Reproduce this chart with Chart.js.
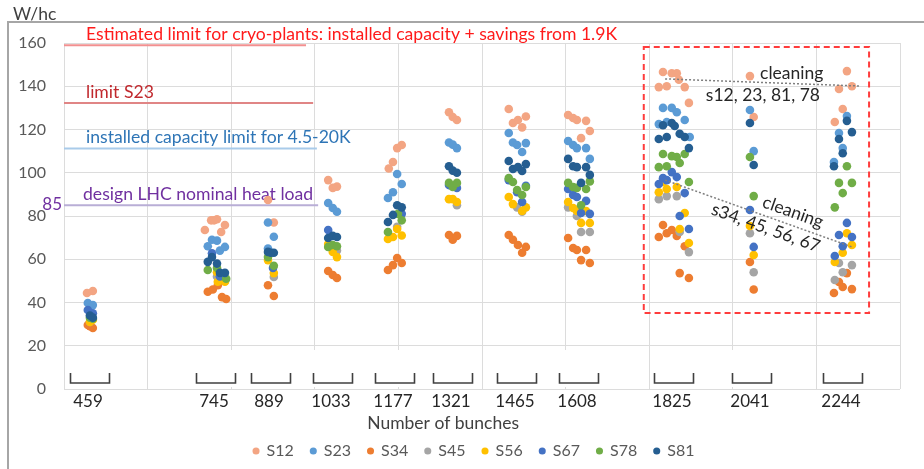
<!DOCTYPE html>
<html>
<head>
<meta charset="utf-8">
<script src="https://cdn.jsdelivr.net/npm/chart.js@4.4.1/dist/chart.umd.min.js"></script>
<style>
  html, body { margin: 0; padding: 0; background: #fff; }
  #wrap { position: relative; width: 924px; height: 469px; }
</style>
</head>
<body>
<div id="wrap"><canvas id="chart" width="924" height="469"></canvas></div>
<script>
// bunch counts shown under the brackets
var bunches = [459, 745, 889, 1033, 1177, 1321, 1465, 1608, 1825, 2041, 2244];
var seriesNames = ['S12', 'S23', 'S34', 'S45', 'S56', 'S67', 'S78', 'S81'];

// [x (bunches, spread inside a group), W/hc]
var s12 = [[455,44.4],[469,45.3],
  [737,73.5],[752,78],[759,78],[766,78.5],[776,72.6],[785,75.8],
  [888,87.4],[902,77],
  [1032,96.6],[1043,93],[1053,93.6],
  [1177,102],[1187,105],[1197,111.4],[1208,112.8],
  [1321,128],[1330,125.8],[1340,124.4],
  [1464,129.5],[1474,123],[1486,124.4],[1496,121],[1505,126],
  [1606,126.7],[1618,125.3],[1627,124.4],[1649,124],[1637,116],[1658,119.3],
  [1833,146.6],[1854,146],[1866,146],[1871,143],[1823,139.6],[1842,140],[1885,139.6],[1895,132.3],
  [2041,144.7],[2050,125.8],
  [2273,147],[2254,138.7],[2285,140],[2263,129.5],[2244,123.5]];
var s23 = [[457,39.8],[469,38.8],
  [744,66],[754,69],[766,68.6],[773,64],[785,65.7],
  [888,77],[902,70.4],[888,65],
  [1032,86],[1043,83.7],[1053,82],
  [1175,88.3],[1187,91],[1197,99.4],[1208,94.8],
  [1321,114],[1330,113],[1340,111.4],
  [1464,118.4],[1474,114],[1484,112.8],[1496,109.6],[1505,113.7],
  [1606,114.7],[1618,112.8],[1627,111.4],[1649,111.4],[1658,106.4],
  [1833,130],[1854,130],[1866,128],[1885,124.4],[1823,122.5],[1842,123.5],[1897,116.5],
  [2041,129],[2050,110],
  [2273,126.2],[2254,118.4],[2263,111.4],[2242,105]];
var s34 = [[457,29.6],[469,28.2],[462,29],
  [744,45],[756,46],[768,48],[778,42.5],[788,41.6],
  [888,48],[902,43],
  [1032,54.6],[1043,52.7],[1053,51.3],
  [1175,55],[1187,57.3],[1197,60.6],[1208,58.3],
  [1321,71.2],[1330,69],[1340,70.8],
  [1464,71.2],[1474,69],[1486,66.6],[1496,63],[1505,65.7],
  [1606,69.8],[1618,65.2],[1627,64.3],[1649,64.3],[1637,59.6],[1658,58.3],
  [1833,75.8],[1823,70.3],[1842,72],[1854,73.5],[1866,70.8],[1885,66],[1873,53.6],[1895,51.3],
  [2041,58.7],[2050,46],
  [2273,53.6],[2254,49.5],[2263,47.2],[2285,46.2],[2242,44.4]];
var s45 = [[462,31],
  [766,52],[785,50],
  [902,51.8],
  [1053,64],
  [1197,75],
  [1340,85],
  [1484,84],[1496,82],
  [1606,84],[1627,80],[1637,72.6],[1658,72.6],
  [1823,87.8],[1842,89.2],[1866,89.2],[1873,72.6],[1895,63.3],
  [2041,72],[2050,54],
  [2254,58.3],[2285,57.3],[2263,54],[2244,50.4]];
var s56 = [[462,31],[469,32],
  [768,49.6],[785,49.6],[766,54],
  [888,59.6],[902,53.6],
  [1032,67],[1043,63.4],[1053,61],
  [1175,69.4],[1187,70.3],[1197,74],[1208,71],
  [1321,87.8],[1330,87.8],[1340,86.5],
  [1464,88.8],[1474,85.5],[1496,82.3],[1505,84],
  [1606,86.5],[1618,83.7],[1627,82.3],[1649,82.3],[1637,76.8],[1658,76.8],
  [1833,95.7],[1823,91],[1842,92.5],[1866,93.4],[1885,81.4],[1873,74],[1895,67.5],
  [2041,75.4],[2050,62],
  [2273,72],[2263,63],[2285,66.6],[2244,58.7]];
var s67 = [[457,36.5],[469,35],
  [754,62.8],[773,52],
  [900,56],
  [1032,73.5],
  [1208,81],
  [1321,94.3],[1340,93],
  [1464,96.6],[1484,91],[1496,86.5],[1505,94],
  [1606,92.5],[1618,89.7],[1627,88.8],[1649,87],[1637,81.4],[1658,81],
  [1833,97.5],[1854,100.3],[1866,98],[1823,94.8],[1842,96.6],[1885,90.6],[1873,80],[1895,74],
  [2041,82.8],[2050,65.7],
  [2273,76.8],[2254,71.2],[2285,70.3],[2244,61.5],[2263,66]];
var s78 = [[462,33],[469,32.5],
  [744,55],[766,56],[788,51],
  [888,61],[902,57],
  [1032,65.7],[1043,66.6],[1053,66],
  [1175,72.6],[1199,81],[1208,78],
  [1321,95.3],[1330,93.4],[1340,95.3],
  [1464,97.5],[1474,95.7],[1484,92],[1496,89.7],[1505,93.4],
  [1606,95.3],[1618,93.4],[1627,93],[1649,92.5],[1637,85],[1658,96],
  [1833,108.7],[1854,107.7],[1866,107.3],[1885,108.7],[1823,102.6],[1842,103],[1873,104.5],[1895,95.7],
  [2041,107.3],[2050,89.2],
  [2273,103],[2254,95.3],[2285,95.3],[2263,90.6],[2244,84]];
var s81 = [[462,34],[469,33],
  [744,58.8],[754,61],[766,58],[773,53.7],[785,53.7],
  [888,63.4],[902,63],[895,63],
  [1032,69.8],[1043,70.8],[1053,70.3],
  [1175,77.2],[1187,80.5],[1197,85],[1208,84],
  [1321,103],[1330,101],[1340,100],
  [1464,105.4],[1474,101.7],[1486,102.6],[1496,100.8],[1505,104],
  [1606,106.4],[1618,103],[1627,102.6],[1649,102.6],[1637,95.3],[1658,99],
  [1833,122],[1854,123],[1861,121.6],[1823,115.6],[1842,116.5],[1873,118],[1885,116.5],[1895,111.4],
  [2041,123],[2050,103.6],
  [2273,124],[2285,118.8],[2254,115.6],[2263,109],[2242,103]];

var seriesData = [s12, s23, s34, s45, s56, s67, s78, s81];
var seriesColors = ['#F3A583', '#5B9BD5', '#ED7D31', '#A5A5A5', '#FFC000', '#4472C4', '#70AD47', '#255E91'];

// horizontal limits (W/hc) and the bunch value where each line stops
var limitValues = [159, 132.3, 111.2, 85];
var limitEnds = [979, 996, 1005, 1008];
var limitLabels = ['Estimated limit for cryo-plants: installed capacity + savings from 1.9K',
  'limit S23', 'installed capacity limit for 4.5-20K', 'design LHC nominal heat load'];
var limitLineColors = ['#F29090', '#E08585', '#A9CBEA', '#B9AED6'];
var limitTextColors = ['#FF1A1A', '#C0282D', '#2E75B6', '#7030A0'];

// cleaning trends: [x0, y0, x1, y1]
var trendTop = [1838, 143.4, 2304, 140.1];
var trendLow = [1838, 96.6, 2285, 65.7];

var datasets = seriesNames.map(function(name, i) {
    return {
        label: name,
        data: seriesData[i].map(function(p) { return {x: p[0], y: p[1]}; }),
        backgroundColor: seriesColors[i],
        borderColor: seriesColors[i],
        borderWidth: 0,
        pointRadius: 4.3,
        pointHoverRadius: 4.3,
        pointBorderWidth: 0,
        order: seriesNames.length - 1 - i
    };
});

// centre of each bunch group, from the points that belong to it
function groupCentres() {
    return bunches.map(function(b) {
        var lo = Infinity, hi = -Infinity;
        seriesData.forEach(function(s) {
            s.forEach(function(p) {
                var best = bunches.reduce(function(a, c) {
                    return Math.abs(c - p[0]) < Math.abs(a - p[0]) ? c : a;
                });
                if (best === b) { lo = Math.min(lo, p[0]); hi = Math.max(hi, p[0]); }
            });
        });
        return (lo + hi) / 2;
    });
}

var FONT = 'Lato, "Open Sans", sans-serif';

var overlay = {
    id: 'overlay',
    afterLayout: function(chart) {
        // legend sits a little right of the canvas centre
        if (chart.legend) {
            chart.legend.left += 24;
            chart.legend.right += 24;
        }
    },
    beforeDatasetsDraw: function(chart) {
        var ctx = chart.ctx, xs = chart.scales.x, ys = chart.scales.y, area = chart.chartArea;
        ctx.save();
        var centres = groupCentres();
        // white label boxes hide the grid near the brackets
        ctx.fillStyle = '#fff';
        centres.forEach(function(c) {
            var px = xs.getPixelForValue(c);
            ctx.fillRect(px - 24, area.bottom - 39, 48, 37);
        });
        // brackets and bunch labels
        ctx.strokeStyle = '#404040';
        ctx.lineWidth = 1.6;
        ctx.fillStyle = '#262626';
        ctx.font = '17px ' + FONT;
        ctx.textAlign = 'center';
        ctx.textBaseline = 'middle';
        centres.forEach(function(c, i) {
            var px = Math.round(xs.getPixelForValue(c));
            var top = area.bottom - 16, bot = area.bottom - 6;
            ctx.beginPath();
            ctx.moveTo(px - 19.5, top);
            ctx.lineTo(px - 19.5, bot);
            ctx.lineTo(px + 19.5, bot);
            ctx.lineTo(px + 19.5, top);
            ctx.stroke();
            ctx.fillText(String(bunches[i]), px - 2, area.bottom + 13);
        });
        // limit lines
        limitValues.forEach(function(v, i) {
            var y = ys.getPixelForValue(v);
            ctx.strokeStyle = limitLineColors[i];
            ctx.lineWidth = 2;
            ctx.beginPath();
            ctx.moveTo(area.left, y);
            ctx.lineTo(xs.getPixelForValue(limitEnds[i]), y);
            ctx.stroke();
            ctx.fillStyle = limitTextColors[i];
            ctx.font = '17.6px ' + FONT;
            ctx.textAlign = 'left';
            ctx.fillText(limitLabels[i], area.left + (i === 3 ? 19 : 22), y - 11);
        });
        ctx.fillStyle = limitTextColors[3];
        ctx.font = '17px ' + FONT;
        ctx.textAlign = 'right';
        ctx.fillText('85', area.left - 2, ys.getPixelForValue(85) - 1);
        ctx.restore();
    },
    afterDatasetsDraw: function(chart) {
        var ctx = chart.ctx, xs = chart.scales.x, ys = chart.scales.y;
        ctx.save();
        // dashed box around the last three groups
        var x0 = xs.getPixelForValue(1787), x1 = xs.getPixelForValue(2326);
        var y0 = ys.getPixelForValue(158.2), y1 = ys.getPixelForValue(35.1);
        ctx.strokeStyle = '#FF3C3C';
        ctx.lineWidth = 2;
        ctx.setLineDash([6, 4]);
        ctx.strokeRect(x0, y0, x1 - x0, y1 - y0);
        // cleaning trends
        ctx.strokeStyle = '#7F7F7F';
        ctx.lineWidth = 1.5;
        ctx.setLineDash([2, 2]);
        [trendTop, trendLow].forEach(function(t) {
            ctx.beginPath();
            ctx.moveTo(xs.getPixelForValue(t[0]), ys.getPixelForValue(t[1]));
            ctx.lineTo(xs.getPixelForValue(t[2]), ys.getPixelForValue(t[3]));
            ctx.stroke();
        });
        ctx.setLineDash([]);
        ctx.fillStyle = '#262626';
        ctx.font = '17.5px ' + FONT;
        ctx.textAlign = 'center';
        ctx.textBaseline = 'middle';
        ctx.fillText('cleaning', xs.getPixelForValue(2141), ys.getPixelForValue(146.1));
        ctx.fillText('s12, 23, 81, 78', xs.getPixelForValue(2072), ys.getPixelForValue(136));
        var ang = Math.atan2(ys.getPixelForValue(trendLow[3]) - ys.getPixelForValue(trendLow[1]),
            xs.getPixelForValue(trendLow[2]) - xs.getPixelForValue(trendLow[0]));
        [['cleaning', 2144, 81.8], ['s34, 45, 56, 67', 2079, 74.5]].forEach(function(t) {
            ctx.save();
            ctx.translate(xs.getPixelForValue(t[1]), ys.getPixelForValue(t[2]));
            ctx.rotate(ang);
            ctx.fillText(t[0], 0, 0);
            ctx.restore();
        });
        ctx.restore();
    },
    afterDraw: function(chart) {
        var ctx = chart.ctx, xs = chart.scales.x, area = chart.chartArea;
        ctx.save();
        // outer frame
        ctx.strokeStyle = '#A6A6A6';
        ctx.lineWidth = 2;
        ctx.beginPath();
        ctx.moveTo(924, 22);
        ctx.lineTo(8, 22);
        ctx.lineTo(8, 469);
        ctx.stroke();
        ctx.fillStyle = '#404040';
        ctx.font = '17.5px ' + FONT;
        ctx.textAlign = 'left';
        ctx.textBaseline = 'middle';
        ctx.fillText('W/hc', 13, 14);
        ctx.textAlign = 'center';
        ctx.fillText('Number of bunches', xs.getPixelForValue(1307), area.bottom + 34);
        ctx.restore();
    }
};

new Chart(document.getElementById('chart').getContext('2d'), {
    type: 'scatter',
    data: { datasets: datasets },
    options: {
        responsive: false,
        animation: false,
        devicePixelRatio: 1,
        layout: { padding: { top: 43, left: 0, right: 24, bottom: 0 } },
        plugins: {
            tooltip: { enabled: false },
            legend: {
                position: 'bottom',
                labels: {
                    usePointStyle: true,
                    boxWidth: 5,
                    boxHeight: 5,
                    padding: 17,
                    color: '#595959',
                    font: { family: FONT, size: 16 },
                    sort: function(a, b) { return a.datasetIndex - b.datasetIndex; }
                }
            }
        },
        scales: {
            x: {
                type: 'linear',
                min: 400,
                max: 2400,
                ticks: { stepSize: 200, display: false },
                grid: { color: '#DCDCDC', drawTicks: false },
                border: { display: false },
                afterFit: function(s) { s.height = 37; }
            },
            y: {
                min: 0,
                max: 160,
                ticks: { stepSize: 20, padding: 18, color: '#595959', font: { family: FONT, size: 16 } },
                grid: { color: '#DCDCDC', drawTicks: false },
                border: { display: false },
                afterFit: function(s) { s.width = 64; }
            }
        }
    },
    plugins: [overlay]
});
</script>
</body>
</html>
